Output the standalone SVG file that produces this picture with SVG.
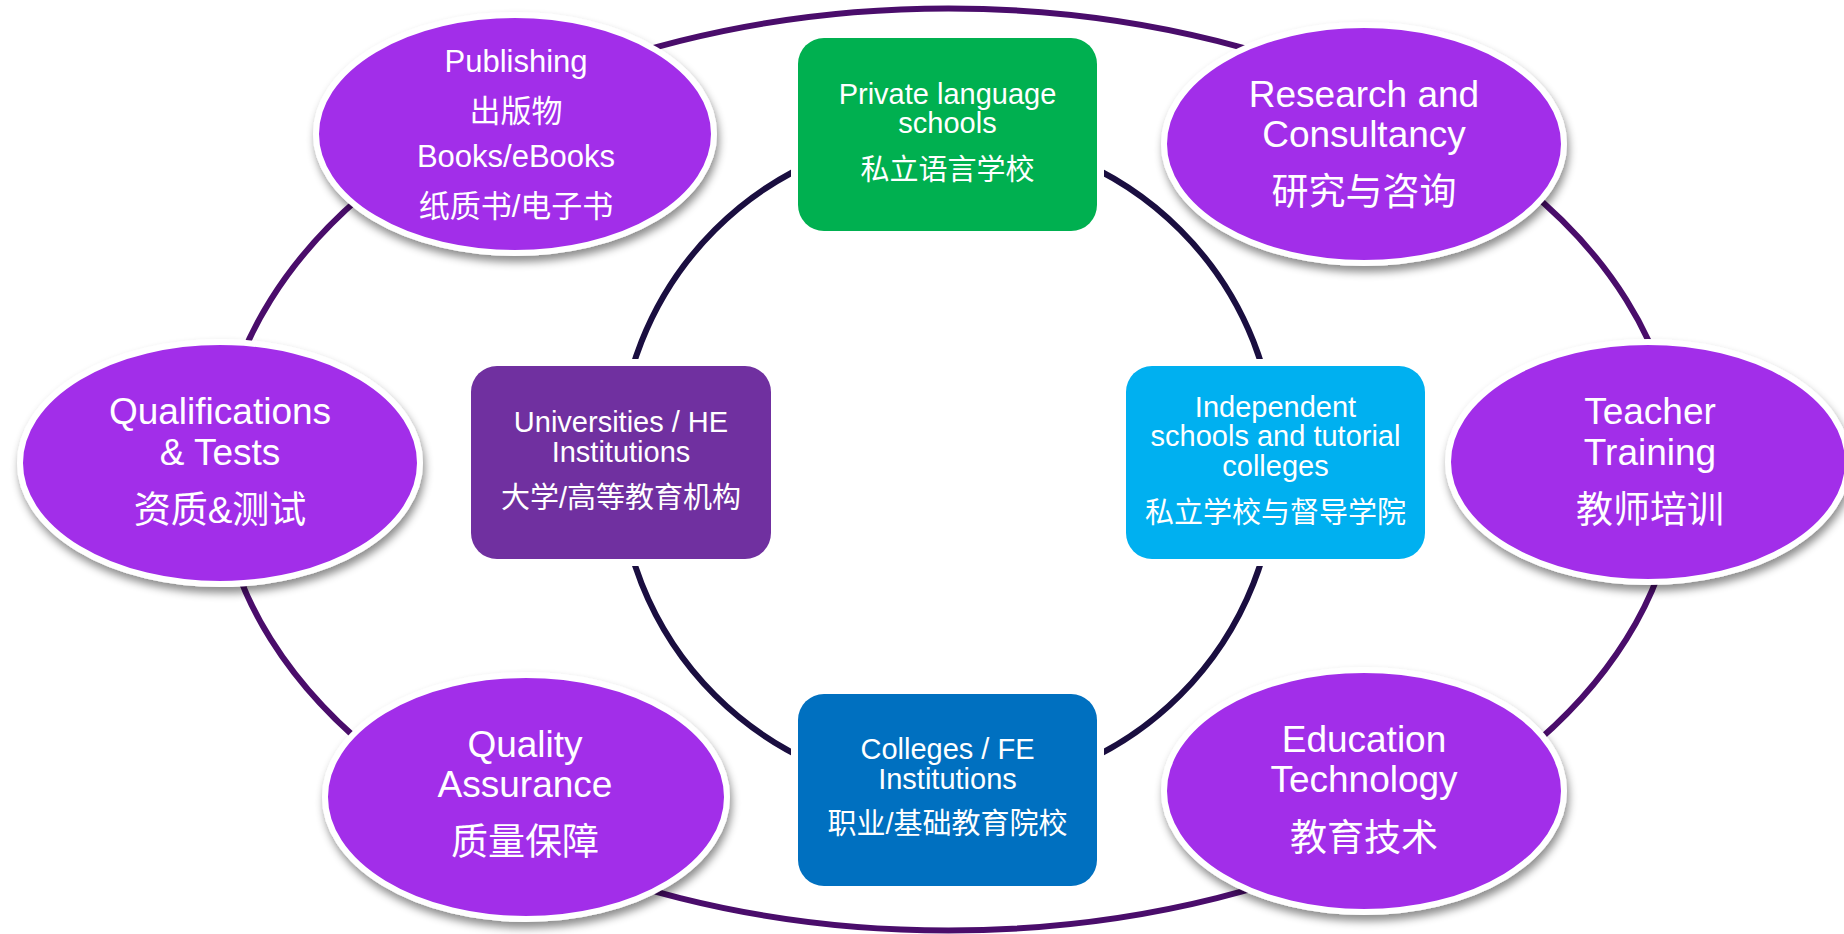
<svg xmlns="http://www.w3.org/2000/svg" width="1844" height="934" viewBox="0 0 1844 934">
<defs>
<filter id="sh" x="-10%" y="-10%" width="125%" height="130%">
<feDropShadow dx="2" dy="6" stdDeviation="4" flood-color="#000" flood-opacity="0.45"/>
</filter>
<style>
.bub{fill:#A22FE9;stroke:#fff;stroke-width:6;filter:url(#sh)}
.box{stroke:#fff;stroke-width:14;paint-order:stroke}
text{font-family:"Liberation Sans","Noto Sans CJK SC",sans-serif;fill:#fff;text-anchor:middle}
.b{font-size:37px}
.p{font-size:31px}
.r{font-size:29px}
</style>
</defs>
<rect width="1844" height="934" fill="#fff"/>
<g id="connectors" fill="none">
<ellipse cx="948.5" cy="469.5" rx="729" ry="461" stroke="#4a0d6b" stroke-width="6"/>
<circle cx="947.5" cy="462.5" r="329" stroke="#1a0e40" stroke-width="6"/>
</g>
<g id="publishing">
<ellipse class="bub" cx="515" cy="134" rx="199" ry="119"/>
<text class="p" x="516" y="72">Publishing</text>
<text class="p" x="516" y="122">出版物</text>
<text class="p" x="516" y="167">Books/eBooks</text>
<text class="p" x="516" y="217">纸质书/电子书</text>
</g>
<g id="research">
<ellipse class="bub" cx="1364" cy="144" rx="200" ry="119"/>
<text class="b" x="1364" y="107">Research and</text>
<text class="b" x="1364" y="147">Consultancy</text>
<text class="b" x="1364" y="205">研究与咨询</text>
</g>
<g id="qualifications">
<ellipse class="bub" cx="220" cy="463" rx="200" ry="121"/>
<text class="b" x="220" y="424">Qualifications</text>
<text class="b" x="220" y="465">&amp; Tests</text>
<text class="b" x="220" y="523">资质&amp;测试</text>
</g>
<g id="teacher">
<ellipse class="bub" cx="1648" cy="462" rx="200" ry="120"/>
<text class="b" x="1650" y="424">Teacher</text>
<text class="b" x="1650" y="465">Training</text>
<text class="b" x="1650" y="523">教师培训</text>
</g>
<g id="quality">
<ellipse class="bub" cx="526" cy="797" rx="201" ry="122"/>
<text class="b" x="525" y="757">Quality</text>
<text class="b" x="525" y="797">Assurance</text>
<text class="b" x="525" y="855">质量保障</text>
</g>
<g id="edtech">
<ellipse class="bub" cx="1364" cy="791" rx="200" ry="121"/>
<text class="b" x="1364" y="752">Education</text>
<text class="b" x="1364" y="792">Technology</text>
<text class="b" x="1364" y="851">教育技术</text>
</g>
<g id="private-language">
<rect class="box" x="798" y="38" width="299" height="193" rx="26" fill="#00B050"/>
<text class="r" x="947.5" y="104">Private language</text>
<text class="r" x="947.5" y="133">schools</text>
<text class="r" x="947.5" y="180">私立语言学校</text>
</g>
<g id="universities">
<rect class="box" x="471" y="366" width="300" height="193" rx="26" fill="#7030A0"/>
<text class="r" x="621" y="432">Universities / HE</text>
<text class="r" x="621" y="462">Institutions</text>
<text class="r" x="621" y="508">大学/高等教育机构</text>
</g>
<g id="independent">
<rect class="box" x="1126" y="366" width="299" height="193" rx="26" fill="#00B0F0"/>
<text class="r" x="1275.5" y="417">Independent</text>
<text class="r" x="1275.5" y="446">schools and tutorial</text>
<text class="r" x="1275.5" y="476">colleges</text>
<text class="r" x="1275.5" y="523">私立学校与督导学院</text>
</g>
<g id="colleges">
<rect class="box" x="798" y="694" width="299" height="192" rx="26" fill="#0070C0"/>
<text class="r" x="947.5" y="759">Colleges / FE</text>
<text class="r" x="947.5" y="789">Institutions</text>
<text class="r" x="947.5" y="834">职业/基础教育院校</text>
</g>
</svg>
